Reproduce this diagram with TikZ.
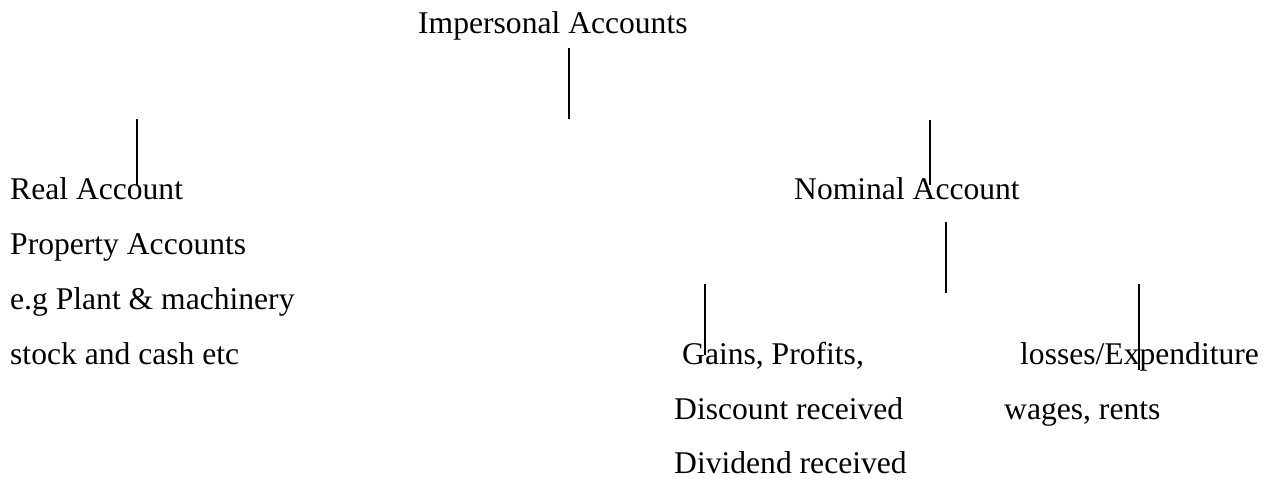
\documentclass[tikz,border=0pt]{standalone}
\usepackage{fontspec}
\setmainfont{Liberation Serif}
\begin{document}
\begin{tikzpicture}[x=1pt,y=1pt,
  lbl/.style={anchor=base west,inner sep=0pt,font=\fontsize{31.6}{38}\selectfont},
  tick/.style={line width=1.6pt,draw=black}]
\useasboundingbox (0,0) rectangle (1274,-479);
\fill[white] (0,0) rectangle (1274,-479);
% texts
\node[lbl] (imp) at (418,-33) {Impersonal Accounts};
\node[lbl] (real) at (10,-199) {Real Account};
\node[lbl] (prop) at (10,-254) {Property Accounts};
\node[lbl] (eg) at (10,-309) {e.g Plant \& machinery};
\node[lbl] (stock) at (10,-364) {stock and cash etc};
\node[lbl] (nom) at (794,-199) {Nominal Account};
\node[lbl] (gains) at (682,-364) {Gains, Profits,};
\node[lbl] (disc) at (674,-419) {Discount received};
\node[lbl] (divd) at (674,-473) {Dividend received};
\node[lbl] (loss) at (1020,-364) {losses/Expenditure};
\node[lbl] (wages) at (1004,-419) {wages, rents};
% line end points
\coordinate (a1) at (569,-48);  \coordinate (a2) at (569,-119);
\coordinate (b1) at (137,-119); \coordinate (b2) at (137,-185);
\coordinate (c1) at (930,-120); \coordinate (c2) at (930,-185);
\coordinate (d1) at (946,-222); \coordinate (d2) at (946,-293);
\coordinate (e1) at (705,-284); \coordinate (e2) at (705,-355);
\coordinate (f1) at (1139,-284); \coordinate (f2) at (1139,-370);
\draw[tick] (a1) -- (a2);
\draw[tick] (b1) -- (b2);
\draw[tick] (c1) -- (c2);
\draw[tick] (d1) -- (d2);
\draw[tick] (e1) -- (e2);
\draw[tick] (f1) -- (f2);
\end{tikzpicture}
\end{document}
